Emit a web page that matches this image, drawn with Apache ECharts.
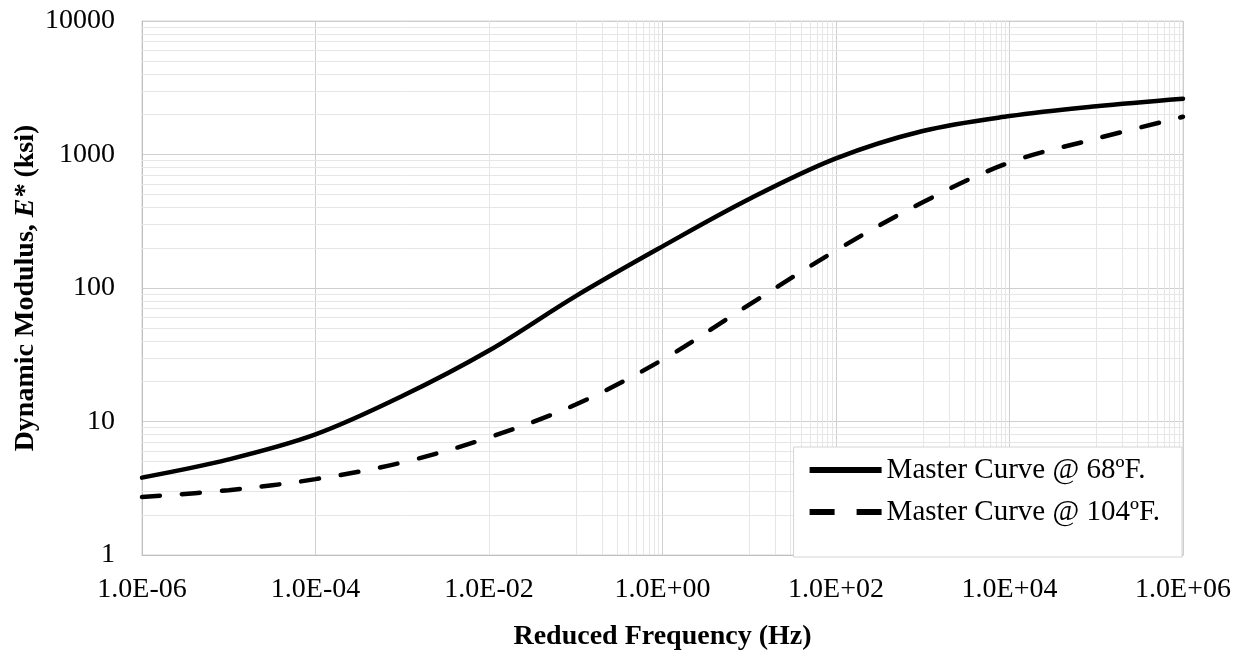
<!DOCTYPE html>
<html>
<head>
<meta charset="utf-8">
<script src="https://cdn.jsdelivr.net/npm/echarts@6/dist/echarts.min.js"></script>
<style>
html,body{margin:0;padding:0;background:#fff;}
#chart{width:1242px;height:656px;}
</style>
</head>
<body>
<div id="chart"></div>
<script>
// Reduced frequency (Hz)
var frequency = [1e-6, 1e-5, 1e-4, 1e-3, 1e-2, 1e-1, 1, 10, 100, 1e3, 1e4, 1e5, 1e6];
// Dynamic modulus E* (ksi)
var modulus68 = [3.8, 5.2, 8.0, 15.5, 34, 87, 205, 464, 935, 1500, 1940, 2300, 2620];
var modulus104 = [2.72, 3.06, 3.7, 4.93, 7.6, 13.4, 29, 75, 191, 439, 871, 1315, 1917];
var seriesNames = ['Master Curve @ 68\u00baF.', 'Master Curve @ 104\u00baF.'];
// axis limits / tick labels
var xMin = 1e-6, xMax = 1e6;
var yMin = 1, yMax = 10000;

// minor gridline values (Excel style: base 100 on x, base 10 on y)
var xMinor = [];
[-5, -3, -1, 1, 3, 5].forEach(function (d) {
  for (var m = 1; m <= 9; m++) xMinor.push(m * Math.pow(10, d));
});
var yMinor = [];
[0, 1, 2, 3].forEach(function (d) {
  for (var m = 2; m <= 9; m++) yMinor.push(m * Math.pow(10, d));
});

function pairs(xs, ys) { return xs.map(function (x, i) { return [x, ys[i]]; }); }

var FONT = 'Liberation Serif';
var chart = echarts.init(document.getElementById('chart'), null, {renderer: 'canvas'});

var gridLines = xMinor.map(function (v) { return {xAxis: v}; })
  .concat(yMinor.map(function (v) { return {yAxis: v}; }));

chart.setOption({
  animation: false,
  backgroundColor: '#fff',
  grid: {left: 142, right: 59, top: 21, bottom: 98, show: true, borderColor: '#d4d4d4', borderWidth: 1},
  legend: {
    data: [
      {name: seriesNames[0], icon: 'path://M0,0H72V6H0Z'},
      {name: seriesNames[1], icon: 'path://M0,0H25V6H0ZM47,0H72V6H47Z'}
    ],
    orient: 'vertical',
    right: 60,
    top: 447,
    z: 20,
    itemWidth: 72,
    itemHeight: 6,
    itemGap: 12,
    padding: [8, 22, 30, 16],
    backgroundColor: '#fff',
    borderColor: '#d4d4d4',
    borderWidth: 1,
    textStyle: {fontFamily: FONT, fontSize: 29, color: '#000', lineHeight: 30},
    selectedMode: false
  },
  xAxis: {
    type: 'log',
    logBase: 100,
    min: xMin,
    max: xMax,
    name: 'Reduced Frequency (Hz)',
    nameLocation: 'middle',
    nameGap: 68,
    nameTextStyle: {fontFamily: FONT, fontSize: 28, fontWeight: 'bold', color: '#000'},
    axisLine: {show: true, lineStyle: {color: '#bfbfbf', width: 1}},
    axisTick: {show: false},
    axisLabel: {
      fontFamily: FONT, fontSize: 28, color: '#000', margin: 21,
      formatter: function (v) {
        var e = Math.round(Math.log10(v));
        return '1.0E' + (e < 0 ? '-' : '+') + String(Math.abs(e)).padStart(2, '0');
      }
    },
    splitLine: {show: true, lineStyle: {color: '#cfcfcf', width: 1}},
    minorTick: {show: false},
    minorSplitLine: {show: false}
  },
  yAxis: {
    type: 'log',
    logBase: 10,
    min: yMin,
    max: yMax,
    name: '{a|Dynamic Modulus, }{b|E*}{a| (ksi)}',
    nameLocation: 'middle',
    nameGap: 102,
    nameMoveOverlap: false,
    nameTextStyle: {
      color: '#000',
      rich: {
        a: {fontFamily: FONT, fontSize: 28, fontWeight: 'bold', color: '#000'},
        b: {fontFamily: FONT, fontSize: 28, fontWeight: 'bold', fontStyle: 'italic', color: '#000'}
      }
    },
    axisLine: {show: true, lineStyle: {color: '#bfbfbf', width: 1}},
    axisTick: {show: false},
    axisLabel: {
      fontFamily: FONT, fontSize: 28, color: '#000', margin: 27,
      formatter: function (v) { return String(Math.round(v)); }
    },
    splitLine: {show: true, lineStyle: {color: '#cfcfcf', width: 1}},
    minorTick: {show: false},
    minorSplitLine: {show: false}
  },
  series: [
    {
      name: 'grid-minor',
      type: 'line',
      data: [],
      z: 1,
      silent: true,
      markLine: {
        silent: true,
        z: 1,
        symbol: ['none', 'none'],
        label: {show: false},
        lineStyle: {color: '#e6e6e6', type: 'solid', width: 1},
        data: gridLines,
        animation: false
      }
    },
    {
      name: seriesNames[0],
      type: 'line',
      data: pairs(frequency, modulus68),
      smooth: 0.35,
      showSymbol: false,
      symbol: 'none',
      z: 5,
      lineStyle: {color: '#000', width: 4.5, type: 'solid', cap: 'round'},
      itemStyle: {color: '#000'}
    },
    {
      name: seriesNames[1],
      type: 'line',
      data: pairs(frequency, modulus104),
      smooth: 0.35,
      showSymbol: false,
      symbol: 'none',
      z: 5,
      lineStyle: {color: '#000', width: 4.5, type: [18, 22], cap: 'round'},
      itemStyle: {color: '#000'}
    }
  ]
});
</script>
</body>
</html>
